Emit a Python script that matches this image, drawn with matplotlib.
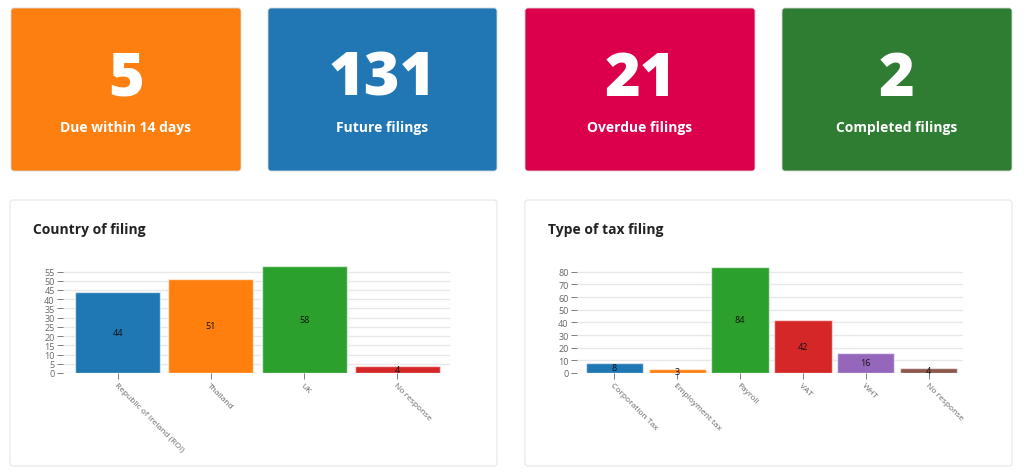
import matplotlib.pyplot as plt
from matplotlib.patches import FancyBboxPatch
import numpy as np

W, H = 1024, 477

# KPI cards
card_values = [5, 131, 21, 2]
card_labels = ["Due within 14 days", "Future filings", "Overdue filings", "Completed filings"]
card_colors = ["#fd7f0f", "#2077b4", "#dc004c", "#2e7d32"]

# Country of filing
country_labels = ["Republic of Ireland (ROI)", "Thailand", "UK", "No response"]
country_values = [44, 51, 58, 4]
country_colors = ["#1f77b4", "#ff7f0e", "#2ca02c", "#d62728"]

# Type of tax filing
tax_labels = ["Corporation Tax", "Employment tax", "Payroll", "VAT", "WHT", "No response"]
tax_values = [8, 3, 84, 42, 16, 4]
tax_colors = ["#1f77b4", "#ff7f0e", "#2ca02c", "#d62728", "#9467bd", "#8c564b"]

plt.rcParams['font.family'] = ['Open Sans', 'DejaVu Sans']

fig = plt.figure(figsize=(W / 100, H / 100), dpi=100)
fig.patch.set_facecolor("white")


def rect(x0, y0, x1, y1):
    # pixel box (top-left origin) -> figure fraction
    return [x0 / W, 1 - y1 / H, (x1 - x0) / W, (y1 - y0) / H]


bg = fig.add_axes([0, 0, 1, 1])
bg.set_xlim(0, W)
bg.set_ylim(H, 0)
bg.axis("off")

# cards
card_x = [(11, 241), (268, 497), (525, 755), (782, 1012)]
for (x0, x1), v, lab, c in zip(card_x, card_values, card_labels, card_colors):
    bg.add_patch(FancyBboxPatch((x0, 9), x1 - x0, 163, boxstyle="round,pad=0,rounding_size=3",
                                facecolor=c, edgecolor="#d8d8d8", linewidth=0.6))
    cx = (x0 + x1) / 2
    bg.text(cx, 80, str(v), color="white", fontsize=44, fontweight="heavy",
            ha="center", va="center")
    bg.text(cx, 128, lab, color="white", fontsize=10, fontweight="bold",
            ha="center", va="center")

# chart panels
for x0, x1, title in [(10, 497, "Country of filing"), (525, 1012, "Type of tax filing")]:
    bg.add_patch(FancyBboxPatch((x0, 201), x1 - x0, 266, boxstyle="round,pad=0,rounding_size=3",
                                facecolor="white", edgecolor="#e6e6e6", linewidth=0.8))
    bg.text(x0 + 23, 230, title, color="#222222", fontsize=10, fontweight="bold",
            ha="left", va="center")


def bar_chart(box, labels, values, colors, ymax, step, xpad):
    ax = fig.add_axes(rect(*box))
    x = np.arange(len(labels))
    ax.bar(x, values, width=0.91, color=colors, edgecolor=(1, 1, 1, 0.6), linewidth=1, zorder=3)
    for xi, v in zip(x, values):
        ax.text(xi, v / 2, str(v), ha="center", va="center", fontsize=6.5, color="#111111", zorder=4)
    ax.set_ylim(0, ymax)
    ax.set_xlim(-0.5 - xpad[0], len(labels) - 0.5 + xpad[1])
    yt = np.arange(0, ymax + 0.1, step)
    yt = yt[yt <= ymax]
    ax.set_yticks(yt)
    ax.grid(axis="y", color="#e8e8e8", linewidth=1, zorder=0)
    for s in ax.spines.values():
        s.set_visible(False)
    ax.tick_params(axis="y", labelsize=6.5, colors="#666666", length=4, width=0.6, pad=2)
    ax.tick_params(axis="x", labelsize=6, colors="#666666", length=4, width=0.6, pad=2)
    ax.set_xticks(x)
    ax.set_xticklabels(labels, rotation=-45, ha="left", rotation_mode="anchor")
    return ax


bar_chart((63, 267, 450, 374), country_labels, country_values, country_colors,
          58, 5, (8 / 93.3, 6 / 93.3))
bar_chart((577, 267.6, 963, 374), tax_labels, tax_values, tax_colors,
          84, 10, (6 / 62.8, 3 / 62.8))

fig.savefig("out.png", dpi=100, facecolor="white")
